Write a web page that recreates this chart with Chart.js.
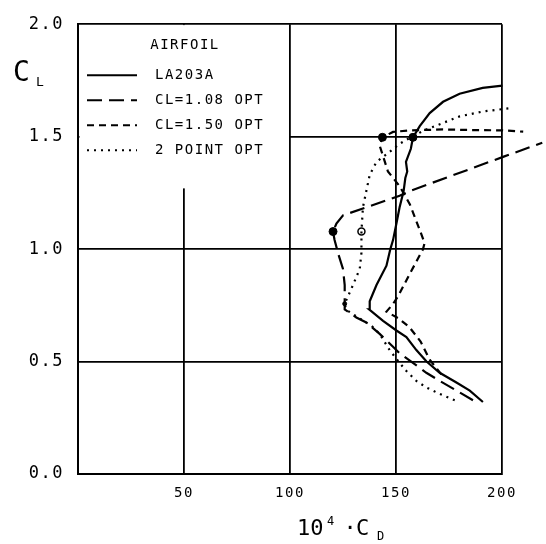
<!DOCTYPE html>
<html>
<head>
<meta charset="utf-8">
<script src="https://cdn.jsdelivr.net/npm/chart.js@4.4.0/dist/chart.umd.min.js"></script>
<style>
  body { margin: 0; background: #fff; }
  #wrap { width: 546px; height: 544px; }
</style>
</head>
<body>
<div id="wrap"><canvas id="chart"></canvas></div>
<script>
// drag polars: x = 10^4 * Cd, y = Cl (ordered from low Cl to high Cl)
const la203aCd = [191.0, 184.8, 178.5, 170.6, 164.3, 159.6, 154.9, 150.2, 143.9, 137.3, 137.6, 140.8, 145.5, 147.3, 148.6, 150.2, 151.7, 153.6, 154.4, 155.3, 154.7, 157.0, 158.0, 161.2, 165.9, 172.2, 180.0, 190.9, 200.2];
const la203aCl = [0.320, 0.371, 0.407, 0.450, 0.501, 0.551, 0.609, 0.638, 0.681, 0.732, 0.768, 0.840, 0.926, 0.999, 1.040, 1.114, 1.186, 1.258, 1.316, 1.345, 1.388, 1.446, 1.497, 1.547, 1.605, 1.655, 1.691, 1.717, 1.727];

const cl108Cd = [186.3, 178.5, 170.6, 164.3, 158.0, 151.7, 148.6, 142.3, 136.0, 131.3, 125.8, 125.8, 125.0, 122.6, 121.0, 120.3, 121.9, 125.0, 151.7, 156.5, 200.5, 219.0];
const cl108Cl = [0.328, 0.371, 0.414, 0.450, 0.494, 0.537, 0.566, 0.623, 0.674, 0.696, 0.732, 0.840, 0.912, 0.984, 1.042, 1.078, 1.114, 1.150, 1.237, 1.258, 1.410, 1.473];

const cl150Cd = [171.4, 165.9, 161.6, 156.4, 151.5, 145.5, 148.5, 150.9, 156.5, 162.7, 163.5, 161.2, 156.5, 151.7, 146.2, 142.3, 143.6, 148.6, 156.5, 172.2, 187.9, 200.2, 210.0];
const cl150Cl = [0.443, 0.508, 0.589, 0.652, 0.690, 0.722, 0.755, 0.789, 0.890, 0.999, 1.027, 1.085, 1.200, 1.280, 1.345, 1.460, 1.497, 1.521, 1.528, 1.532, 1.529, 1.528, 1.522];

const twoPtCd = [177.7, 170.6, 164.3, 159.6, 154.9, 151.7, 147.0, 142.3, 138.4, 131.5, 126.5, 125.8, 129.7, 132.9, 133.7, 133.7, 134.4, 136.0, 137.6, 140.8, 147.0, 151.7, 158.0, 164.3, 172.2, 180.0, 191.0, 203.6];
const twoPtCl = [0.328, 0.356, 0.385, 0.414, 0.458, 0.494, 0.551, 0.623, 0.659, 0.700, 0.730, 0.757, 0.840, 0.912, 0.984, 1.078, 1.186, 1.258, 1.330, 1.388, 1.432, 1.468, 1.503, 1.532, 1.561, 1.590, 1.612, 1.626];

// design points marked on the curves
const solidMarkCd = [158.0, 143.6, 120.3];
const solidMarkCl = [1.497, 1.497, 1.078];
const openMarkCd = [133.7];
const openMarkCl = [1.078];
const smallMarkCd = [125.8];
const smallMarkCl = [0.757];

const seriesNames = ['LA203A', 'CL=1.08 OPT', 'CL=1.50 OPT', '2 POINT OPT'];
const legendTitle = 'AIRFOIL';
const xMin = 0, xMax = 200, xStep = 50;
const yMin = 0, yMax = 2, yStep = 0.5;

const FONT = '"DejaVu Sans Mono", monospace';
const dashes = [[], [15, 7], [7, 5], [2, 5]];

function pts(xs, ys) {
  return xs.map((x, i) => ({ x: x, y: ys[i] }));
}

function curve(label, xs, ys, i) {
  return {
    label: label,
    data: pts(xs, ys),
    showLine: true,
    borderColor: '#000',
    borderWidth: 2.2,
    borderDash: dashes[i],
    pointRadius: 0,
    tension: 0,
    clip: false
  };
}

// legend box in the top left corner + axis titles
const legendBox = {
  id: 'legendBox',
  beforeDraw(chart) {
    chart.ctx.letterSpacing = '1.5px';
  },
  beforeDatasetsDraw(chart) {
    const { ctx, chartArea: a, scales: { x, y } } = chart;
    ctx.save();
    ctx.fillStyle = '#fff';
    ctx.fillRect(a.left + 1.5, a.top + 0.9, x.getPixelForValue(100) - a.left - 2.5, y.getPixelForValue(1.27) - a.top - 0.9);
    ctx.restore();
  },
  afterDraw(chart) {
    const { ctx, chartArea: a } = chart;
    ctx.save();
    ctx.fillStyle = '#000';
    ctx.strokeStyle = '#000';
    ctx.font = '14px ' + FONT;
    ctx.textBaseline = 'middle';
    ctx.textAlign = 'center';
    ctx.fillText(legendTitle, a.left + 107, a.top + 21);
    ctx.textAlign = 'left';
    seriesNames.forEach((name, i) => {
      const yy = a.top + 51 + i * 25;
      ctx.setLineDash(dashes[i]);
      ctx.lineWidth = 2;
      ctx.beginPath();
      ctx.moveTo(a.left + 9, yy);
      ctx.lineTo(a.left + 59, yy);
      ctx.stroke();
      ctx.fillText(name, a.left + 77, yy);
    });

    // C_L
    ctx.textBaseline = 'alphabetic';
    ctx.letterSpacing = '0px';
    ctx.font = '28px ' + FONT;
    ctx.fillText('C', 13, 81);
    ctx.font = '13px ' + FONT;
    ctx.fillText('L', 36, 86);

    // 10^4 . C_D
    ctx.font = '22px ' + FONT;
    ctx.fillText('10', 297, 535);
    ctx.font = '12px ' + FONT;
    ctx.fillText('4', 327, 525);
    ctx.font = '22px ' + FONT;
    ctx.textAlign = 'center';
    ctx.fillText('\u00b7', 350, 535);
    ctx.textAlign = 'left';
    ctx.fillText('C', 356, 535);
    ctx.font = '12px ' + FONT;
    ctx.fillText('D', 377, 540);
    ctx.restore();
  }
};

const ctx = document.getElementById('chart');

new Chart(ctx, {
  type: 'scatter',
  data: {
    datasets: [
      curve(seriesNames[0], la203aCd, la203aCl, 0),
      curve(seriesNames[1], cl108Cd, cl108Cl, 1),
      curve(seriesNames[2], cl150Cd, cl150Cl, 2),
      curve(seriesNames[3], twoPtCd, twoPtCl, 3),
      {
        label: 'design points',
        data: pts(solidMarkCd, solidMarkCl),
        pointRadius: 4,
        pointBackgroundColor: '#000',
        pointBorderColor: '#000',
        clip: false
      },
      {
        label: 'design point (2 point)',
        data: pts(openMarkCd, openMarkCl),
        pointRadius: 3.5,
        pointBorderWidth: 1.5,
        pointBackgroundColor: '#fff',
        pointBorderColor: '#000'
      },
      {
        label: 'corner',
        data: pts(smallMarkCd, smallMarkCl),
        pointRadius: 2,
        pointBackgroundColor: '#000',
        pointBorderColor: '#000'
      }
    ]
  },
  options: {
    responsive: true,
    maintainAspectRatio: false,
    animation: false,
    layout: { padding: { left: 0, top: 12, right: 44, bottom: 0 } },
    plugins: {
      legend: { display: false },
      tooltip: { enabled: false }
    },
    scales: {
      x: {
        type: 'linear',
        min: xMin,
        max: xMax,
        afterFit(scale) { scale.height = 70; },
        ticks: {
          stepSize: xStep,
          color: '#000',
          font: { family: FONT, size: 14 },
          padding: 11,
          maxRotation: 0,
          callback: v => (v === 0 ? '' : String(v))
        },
        grid: { color: '#000', lineWidth: 1.8, drawTicks: false },
        border: { display: true, color: '#000', width: 2 }
      },
      y: {
        type: 'linear',
        min: yMin,
        max: yMax,
        afterFit(scale) { scale.width = 78; },
        ticks: {
          stepSize: yStep,
          color: '#000',
          font: { family: FONT, size: 17 },
          padding: 14,
          callback: v => v.toFixed(1)
        },
        grid: { color: '#000', lineWidth: 1.8, drawTicks: false },
        border: { display: true, color: '#000', width: 2 }
      }
    }
  },
  plugins: [legendBox]
});
</script>
</body>
</html>
